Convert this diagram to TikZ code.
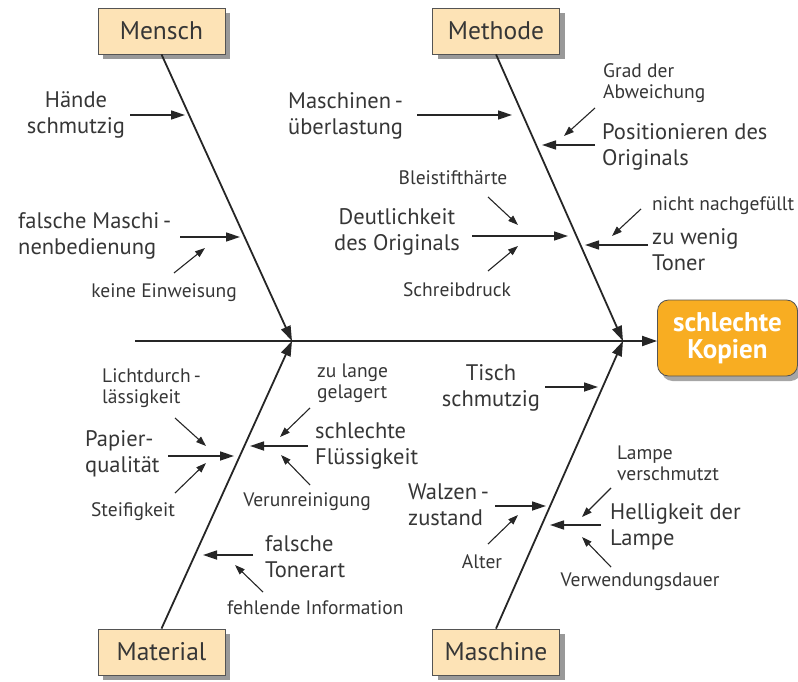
\documentclass[tikz,border=0pt]{standalone}
\usepackage{fontspec}
\setmainfont{PT Sans}
\usetikzlibrary{arrows.meta,shadows}
\definecolor{ink}{HTML}{363636}
\definecolor{linecol}{HTML}{262626}
\definecolor{peach}{HTML}{FDE3B6}
\definecolor{effectfill}{HTML}{F8AD22}
\begin{document}
\begin{tikzpicture}[x=1pt,y=-1pt,
  category/.style={draw=ink!85, line width=0.8pt, fill=peach, minimum width=127pt,
    minimum height=46pt, inner sep=0pt, text=ink, font=\fontsize{25.5}{29}\selectfont,
    drop shadow={shadow xshift=5pt, shadow yshift=-5pt, fill=black!40, opacity=1}},
  effect/.style={draw=ink!85, line width=0.8pt, fill=effectfill, rounded corners=11pt,
    minimum width=140pt, minimum height=76pt, inner sep=0pt, text=white, align=center,
    font=\bfseries\fontsize{27}{27}\selectfont,
    drop shadow={shadow xshift=4pt, shadow yshift=-5pt, fill=black!35, opacity=1}},
  cause/.style={text=ink, inner sep=0pt, font=\fontsize{22.5}{26}\selectfont},
  minor/.style={text=ink, inner sep=0pt, font=\fontsize{19.5}{21}\selectfont},
  bone/.style={draw=linecol, line width=1.8pt, -{Triangle[length=15pt,width=10pt]}},
  arr/.style={draw=linecol, line width=1.7pt, -{Triangle[length=14pt,width=9pt]}},
  sub/.style={draw=linecol, line width=1.1pt, -{Triangle[length=10pt,width=7pt]}}]
\useasboundingbox (0,0) rectangle (798,682);

% category boxes and effect
\node[category] (mensch)   at (161.5,31)  {Mensch};
\node[category] (methode)  at (496,31)    {Methode};
\node[category] (material) at (161.5,652) {Material};
\node[category] (maschine) at (496,652)   {Maschine};
\node[effect]   (kopien)   at (727.5,338) {schlechte\\Kopien};

% spine and main bones
\coordinate (tail) at (135,341);
\coordinate (j1) at (292,341);
\coordinate (j2) at (623,341);
\draw[bone] (tail) -- (tail -| kopien.west);
\draw[bone] (mensch.south) -- (j1);
\draw[bone] (material.north) -- (j1);
\draw[bone] (methode.south) -- (j2);
\draw[bone] (maschine.north) -- (j2);

% ---------- Mensch ----------
\node[cause, align=center] (haende) at (76,115) {Hände\\schmutzig};
\node[cause, align=left, anchor=west] (bedienung) at (18,236) {falsche Maschi\,-\\nenbedienung};
\node[minor] (einweisung) at (164,293) {keine Einweisung};
\coordinate (h0) at (130,115); \coordinate (h1) at (185,115);
\coordinate (o0) at (180,237); \coordinate (o1) at (240,237);
\coordinate (t0) at (174,273); \coordinate (t1) at (205,248);
\draw[arr] (h0) -- (h1);
\draw[arr] (o0) -- (o1);
\draw[sub] (t0) -- (t1);

% ---------- Methode ----------
\node[cause, align=left, anchor=west] (ueberlast) at (288,116) {Maschinen\,-\\überlastung};
\node[minor, align=left, anchor=west] (abweichung) at (603,83) {Grad der\\Abweichung};
\node[cause, align=left, anchor=west] (position) at (602,147) {Positionieren des\\Originals};
\node[minor] (bleistift) at (453,178) {Bleistifthärte};
\node[cause, align=center] (deutlich) at (397,232) {Deutlichkeit\\des Originals};
\node[minor] (druck) at (457,290) {Schreibdruck};
\node[minor, anchor=west] (nachgef) at (652,206) {nicht nachgefüllt};
\node[cause, align=left, anchor=west] (wenig) at (652,250) {zu wenig\\Toner};
\coordinate (v0) at (417,115); \coordinate (v1) at (512,115);
\coordinate (d0) at (595,108); \coordinate (d1) at (564,136);
\coordinate (p0) at (595,145); \coordinate (p1) at (542,145);
\coordinate (b0) at (488,197); \coordinate (b1) at (518,225);
\coordinate (c0) at (472,236); \coordinate (c1) at (568,236);
\coordinate (s0) at (488,271); \coordinate (s1) at (518,246);
\coordinate (r0) at (641,209); \coordinate (r1) at (612,236);
\coordinate (n0) at (648,245); \coordinate (n1) at (585,245);
\draw[arr] (v0) -- (v1);
\draw[sub] (d0) -- (d1);
\draw[arr] (p0) -- (p1);
\draw[sub] (b0) -- (b1);
\draw[arr] (c0) -- (c1);
\draw[sub] (s0) -- (s1);
\draw[sub] (r0) -- (r1);
\draw[arr] (n0) -- (n1);

% ---------- Material ----------
\node[minor, align=left, anchor=west] (licht) at (102,388) {Lichtdurch\,-\\lässigkeit};
\node[cause, align=left, anchor=west] (papier) at (85,454) {Papier-\\qualität};
\node[minor] (steif) at (133,512) {Steifigkeit};
\node[minor, align=left, anchor=west] (gelagert) at (317,383) {zu lange\\gelagert};
\node[cause, align=left, anchor=west] (fluessig) at (315,446) {schlechte\\Flüssigkeit};
\node[minor] (verunr) at (307,502) {Verunreinigung};
\node[cause, align=left, anchor=west] (tonerart) at (265,557) {falsche\\Tonerart};
\node[minor, anchor=west] (information) at (227,608) {fehlende Information};
\coordinate (l0) at (175,418); \coordinate (l1) at (206,446);
\coordinate (q0) at (168,456); \coordinate (q1) at (234,456);
\coordinate (f0) at (175,493); \coordinate (f1) at (206,463);
\coordinate (g0) at (310,408); \coordinate (g1) at (280,437);
\coordinate (u0) at (308,446); \coordinate (u1) at (250,446);
\coordinate (e0) at (310,485); \coordinate (e1) at (281,455);
\coordinate (y0) at (253,555); \coordinate (y1) at (203,555);
\coordinate (i0) at (263,592); \coordinate (i1) at (235,565);
\draw[sub] (l0) -- (l1);
\draw[arr] (q0) -- (q1);
\draw[sub] (f0) -- (f1);
\draw[sub] (g0) -- (g1);
\draw[arr] (u0) -- (u1);
\draw[sub] (e0) -- (e1);
\draw[arr] (y0) -- (y1);
\draw[sub] (i0) -- (i1);

% ---------- Maschine ----------
\node[cause, align=center] (tisch) at (491,388) {Tisch\\schmutzig};
\node[cause, align=left, anchor=west] (walzen) at (408,505) {Walzen\,-\\zustand};
\node[minor] (alter) at (482,562) {Alter};
\node[minor, align=left, anchor=west] (lampe) at (617,463) {Lampe\\verschmutzt};
\node[cause, align=left, anchor=west] (hellig) at (610,527) {Helligkeit der\\Lampe};
\node[minor] (dauer) at (640,582) {Verwendungsdauer};
\coordinate (w0) at (545,387); \coordinate (w1) at (598,387);
\coordinate (z0) at (495,506); \coordinate (z1) at (546,506);
\coordinate (a0) at (488,544); \coordinate (a1) at (518,515);
\coordinate (k0) at (611,488); \coordinate (k1) at (582,517);
\coordinate (x0) at (601,525); \coordinate (x1) at (550,525);
\coordinate (m0) at (611,567); \coordinate (m1) at (582,537);
\draw[arr] (w0) -- (w1);
\draw[arr] (z0) -- (z1);
\draw[sub] (a0) -- (a1);
\draw[sub] (k0) -- (k1);
\draw[arr] (x0) -- (x1);
\draw[sub] (m0) -- (m1);
\end{tikzpicture}
\end{document}
